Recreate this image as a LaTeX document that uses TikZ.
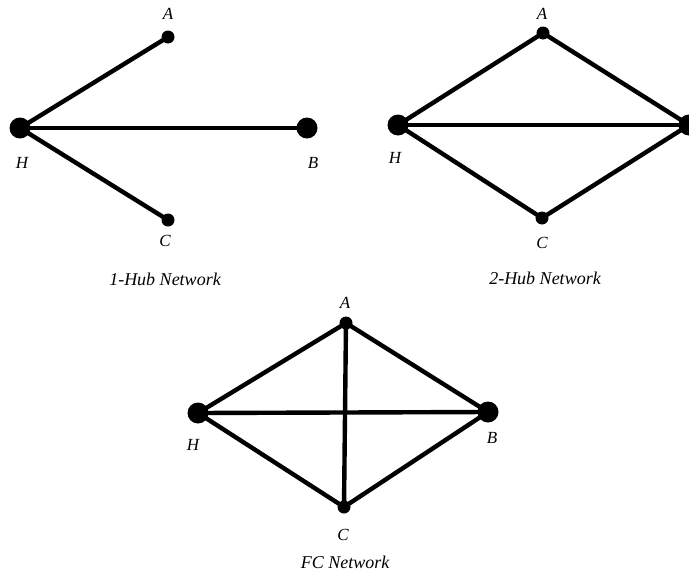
\documentclass[tikz,border=0pt]{standalone}
\usepackage{fontspec}
\setmainfont{Liberation Serif}
\begin{document}
\begin{tikzpicture}[x=1pt,y=-1pt,
  hub/.style={circle,fill=black,inner sep=0pt,minimum size=21pt},
  spoke/.style={circle,fill=black,inner sep=0pt,minimum size=13pt},
  edge/.style={line width=4.4pt},
  lbl/.style={font=\fontsize{17}{17}\selectfont\itshape,inner sep=0pt},
  ttl/.style={font=\fontsize{18}{18}\selectfont\itshape,inner sep=0pt}]
\useasboundingbox (0,0) rectangle (689,573);
\clip (0,0) rectangle (689,573);
% 1-Hub network
\node[hub]   (h1) at (20,128) {};
\node[spoke] (a1) at (168,37) {};
\node[hub]   (b1) at (307,128) {};
\node[spoke] (c1) at (168,220) {};
\draw[edge] (h1.center) -- (a1.center);
\draw[edge] (h1.center) -- (b1.center);
\draw[edge] (h1.center) -- (c1.center);
\node[lbl] (la1) at (168,14) {A};
\node[lbl] (lh1) at (22,163) {H};
\node[lbl] (lb1) at (313,163) {B};
\node[lbl] (lc1) at (165,241) {C};
\node[ttl] (t1) at (165,279) {1-Hub Network};
% 2-Hub network
\node[hub]   (h2) at (398,125) {};
\node[spoke] (a2) at (543,33) {};
\node[hub]   (b2) at (689,125) {};
\node[spoke] (c2) at (542,218) {};
\draw[edge] (h2.center) -- (a2.center) -- (b2.center) -- (c2.center) -- cycle;
\draw[edge] (h2.center) -- (b2.center);
\node[lbl] (la2) at (542,14) {A};
\node[lbl] (lh2) at (395,158) {H};
\node[lbl] (lb2) at (694,160) {B};
\node[lbl] (lc2) at (542,243) {C};
\node[ttl] (t2) at (545,278) {2-Hub Network};
% Fully connected network
\node[hub]   (h3) at (198,413) {};
\node[spoke] (a3) at (346,323) {};
\node[hub]   (b3) at (488,412) {};
\node[spoke] (c3) at (344,507) {};
\draw[edge] (h3.center) -- (a3.center) -- (b3.center) -- (c3.center) -- cycle;
\draw[edge] (h3.center) -- (b3.center);
\draw[edge] (a3.center) -- (c3.center);
\node[lbl] (la3) at (345,303) {A};
\node[lbl] (lh3) at (193,445) {H};
\node[lbl] (lb3) at (492,438) {B};
\node[lbl] (lc3) at (343,535) {C};
\node[ttl] (t3) at (345,562) {FC Network};
\end{tikzpicture}
\end{document}
